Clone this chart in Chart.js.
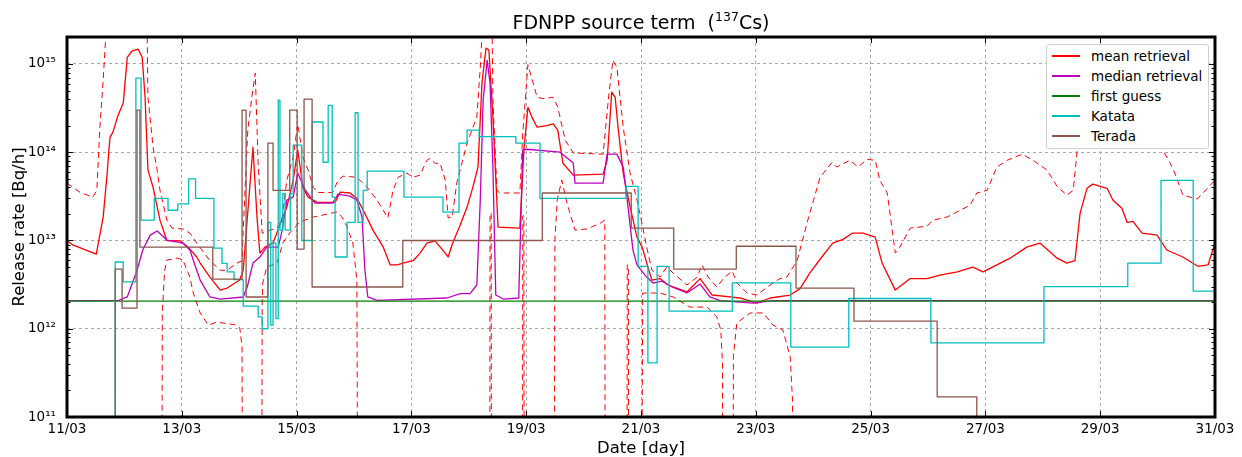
<!DOCTYPE html>
<html>
<head>
<meta charset="utf-8">
<title>FDNPP source term</title>
<script src="https://cdn.jsdelivr.net/npm/chart.js@4.4.1/dist/chart.umd.min.js"></script>
<style>
  body { margin: 0; background: #fff; }
  #wrap { position: relative; width: 1242px; height: 457px; font-family: "DejaVu Sans", sans-serif; color: #000; }
  #chart { position: absolute; left: 0; top: 0; }
  .txt { position: absolute; white-space: nowrap; }
  #title { left: 67px; width: 1148px; top: 13px; text-align: center; font-size: 19px; line-height: 19px; }
  #title .sup { font-size: 12.5px; position: relative; top: -8px; line-height: 0; }
  #xlabel { left: 67px; width: 1148px; top: 440px; text-align: center; font-size: 16.5px; line-height: 16.5px; }
  #ylabel { left: -131px; top: 217px; width: 300px; height: 20px; line-height: 20px; text-align: center; font-size: 16.5px; transform: rotate(-90deg); }
  #legend { position: absolute; left: 1046px; top: 44px; width: 161px; height: 103px; background: #fff; border: 1px solid #cfcfcf; border-radius: 3px; font-size: 13.5px; }
  #legend .row { position: absolute; left: 0; width: 160px; height: 20px; }
  #legend .line { position: absolute; left: 5px; top: 9px; width: 28px; height: 2px; }
  #legend .lab { position: absolute; left: 44px; top: 0; line-height: 20px; }
</style>
</head>
<body>
<div id="wrap">
  <canvas id="chart" width="1242" height="457"></canvas>
  <div id="title" class="txt">FDNPP source term &nbsp;(<span class="sup">137</span>Cs)</div>
  <div id="xlabel" class="txt">Date [day]</div>
  <div id="ylabel" class="txt">Release rate [Bq/h]</div>
  <div id="legend"></div>
</div>
<script>
"use strict";

// Axis ticks (x = days since 11/03 00:00)
var xTickDays = [0, 2, 4, 6, 8, 10, 12, 14, 16, 18, 20];
var xTickLabels = ['11/03', '13/03', '15/03', '17/03', '19/03', '21/03', '23/03', '25/03', '27/03', '29/03', '31/03'];
var yTickValues = [1e11, 1e12, 1e13, 1e14, 1e15];
var yTickLabels = ['10¹¹', '10¹²', '10¹³', '10¹⁴', '10¹⁵'];
var legendNames = ['mean retrieval', 'median retrieval', 'first guess', 'Katata', 'Terada'];
var seriesColors = ['#ff0000', '#bf00bf', '#008000', '#00bfbf', '#8c564b'];

// Release rates [Bq/h] as [day, value]
var meanRetrieval = [[0,1.0e13],[0.10,8.9e12],[0.51,7.0e12],[0.63,1.84e13],[0.70,5.8e13],[0.73,1.06e14],[0.75,1.48e14],[0.80,1.69e14],[0.89,2.63e14],[0.98,3.6e14],[1.00,5.05e14],[1.05,1.19e15],[1.13,1.40e15],[1.24,1.47e15],[1.31,1.19e15],[1.36,4.2e14],[1.41,6.3e13],[1.50,4.0e13],[1.62,1.70e13],[1.74,1.0e13],[1.97,9.9e12],[2.11,8.4e12],[2.26,6.5e12],[2.32,5.55e12],[2.49,3.85e12],[2.67,2.74e12],[2.79,2.89e12],[3.01,3.56e12],[3.07,4.6e12],[3.19,4.5e13],[3.24,1.14e14],[3.31,1.84e13],[3.36,7.2e12],[3.45,8.4e12],[3.59,9.4e12],[3.83,2.39e13],[3.94,4.83e13],[4.02,1.06e14],[4.11,4.0e13],[4.20,3.1e13],[4.36,2.7e13],[4.67,2.7e13],[4.76,3.53e13],[4.93,3.45e13],[5.05,3.0e13],[5.16,2.21e13],[5.33,1.31e13],[5.51,8.4e12],[5.63,5.3e12],[5.75,5.3e12],[5.89,5.6e12],[6.03,5.9e12],[6.15,7.2e12],[6.27,9.35e12],[6.41,9.9e12],[6.59,7.2e12],[6.64,6.5e12],[6.72,9.35e12],[6.85,1.5e13],[6.97,2.39e13],[7.07,4.0e13],[7.16,6.8e13],[7.23,6.1e14],[7.30,1.51e15],[7.35,1.44e15],[7.42,2.5e14],[7.51,1.42e13],[7.89,1.38e13],[7.96,1.06e14],[8.03,3.24e14],[8.10,2.5e14],[8.19,1.92e14],[8.36,2.0e14],[8.47,2.1e14],[8.55,1.78e14],[8.64,7.5e13],[8.82,5.5e13],[9.34,5.65e13],[9.41,8.1e13],[9.49,4.8e14],[9.55,4.2e14],[9.60,1.92e14],[9.69,5.8e13],[9.81,2.4e13],[9.93,1.09e13],[10.02,8.4e12],[10.10,5.55e12],[10.19,3.56e12],[10.33,3.7e12],[10.47,3.13e12],[10.80,2.61e12],[11.03,3.7e12],[11.24,2.41e12],[11.55,2.29e12],[11.72,2.23e12],[12.02,1.95e12],[12.25,2.23e12],[12.60,2.41e12],[12.77,2.85e12],[12.94,4.27e12],[13.15,6.5e12],[13.34,9.35e12],[13.52,1.03e13],[13.68,1.21e13],[13.87,1.21e13],[14.08,1.09e13],[14.20,5.55e12],[14.43,2.74e12],[14.69,3.7e12],[14.98,3.7e12],[15.21,4.05e12],[15.51,4.4e12],[15.78,5.0e12],[15.96,4.4e12],[16.20,5.3e12],[16.43,6.3e12],[16.72,8.4e12],[16.95,9.35e12],[17.25,6.3e12],[17.42,5.55e12],[17.56,5.9e12],[17.65,2.04e13],[17.77,3.9e13],[17.87,4.35e13],[18.12,3.9e13],[18.22,2.87e13],[18.38,2.3e13],[18.47,1.6e13],[18.57,1.65e13],[18.73,1.21e13],[18.99,1.15e13],[19.16,7.8e12],[19.44,6.5e12],[19.70,5.1e12],[19.88,5.3e12],[20,9.35e12]];

// Upper / lower uncertainty bounds of the mean (1e5 = below the axis, i.e. non-positive)
var upperBound = [[0,4.47e13],[0.23,3.5e13],[0.45,3.1e13],[0.52,3.7e13],[0.57,1.78e14],[0.63,6.56e14],[0.71,5e15],[1.39,5e15],[1.41,4.2e14],[1.50,1.14e14],[1.57,6.3e13],[1.62,3.7e13],[1.74,1.7e13],[1.83,1.38e13],[2.02,1.35e13],[2.14,1.21e13],[2.26,9.35e12],[2.49,5.9e12],[2.67,4.6e12],[2.79,4.6e12],[2.96,5.55e12],[3.05,5.9e12],[3.07,1.31e13],[3.15,1.78e14],[3.22,4.2e14],[3.28,7.87e14],[3.33,7.5e13],[3.40,1.21e13],[3.54,1.31e13],[3.66,1.38e13],[3.75,1.84e13],[3.83,4.83e13],[3.94,8.8e13],[4.02,2.1e14],[4.11,8.8e13],[4.20,6.3e13],[4.29,4.0e13],[4.37,3.5e13],[4.63,3.5e13],[4.72,4.8e13],[4.81,5.35e13],[5.05,5.2e13],[5.23,4.0e13],[5.40,2.87e13],[5.59,1.8e13],[5.68,3.7e13],[5.77,5.2e13],[5.92,5.8e13],[6.03,5.2e13],[6.15,5.5e13],[6.27,8.1e13],[6.32,8.5e13],[6.41,7.5e13],[6.50,7.5e13],[6.59,4.8e13],[6.64,1.8e13],[6.71,1.84e13],[6.79,4.47e13],[6.97,1.27e14],[7.14,2.5e14],[7.20,9.2e14],[7.26,5e15],[7.40,5e15],[7.42,3.9e14],[7.49,3.7e13],[7.54,3.45e13],[7.89,3.45e13],[7.94,1.65e14],[8.03,9.8e14],[8.12,6.1e14],[8.19,4.2e14],[8.29,4.05e14],[8.47,4.2e14],[8.55,3.24e14],[8.68,1.37e14],[8.82,9.8e13],[9.34,9.5e13],[9.43,3.9e14],[9.51,1.1e15],[9.58,9.2e14],[9.69,1.92e14],[9.81,5.8e13],[9.93,2.87e13],[9.98,2.04e13],[10.10,8.4e12],[10.19,4.6e12],[10.33,3.85e12],[10.45,5.0e12],[10.56,4.27e12],[10.80,3.13e12],[10.98,3.85e12],[11.06,5.3e12],[11.17,3.85e12],[11.32,2.97e12],[11.46,3.85e12],[11.59,4.5e12],[11.67,3.3e12],[11.85,2.54e12],[12.02,2.41e12],[12.20,2.97e12],[12.42,3.7e12],[12.54,3.85e12],[12.72,5.9e12],[12.89,1.56e13],[13.12,5.2e13],[13.33,7.7e13],[13.41,6.8e13],[13.64,8.1e13],[13.78,6.8e13],[13.94,8.3e13],[14.08,8.1e13],[14.16,4.8e13],[14.29,3.45e13],[14.43,7.2e12],[14.51,8.4e12],[14.69,1.38e13],[14.98,1.45e13],[15.09,1.7e13],[15.33,1.84e13],[15.56,2.2e13],[15.73,2.5e13],[15.85,3.45e13],[16.03,3.7e13],[16.20,6.8e13],[16.38,8.1e13],[16.64,9.5e13],[16.83,8.1e13],[17.07,6.3e13],[17.26,4.0e13],[17.42,3.27e13],[17.53,3.7e13],[17.60,1.06e14],[17.73,3.5e14],[18.34,5e14],[18.87,2.5e14],[19.09,1.06e14],[19.22,7.5e13],[19.30,5.8e13],[19.44,3.27e13],[19.69,2.95e13],[19.79,3.45e13],[19.97,4.6e13],[20,5.0e13]];

var lowerBound = [[0,1e5],[1.64,1e5],[1.66,1.5e12],[1.70,4.5e12],[1.74,6.0e12],[1.92,6.32e12],[2.02,6.0e12],[2.14,3.85e12],[2.20,2.54e12],[2.32,1.51e12],[2.46,1.10e12],[2.61,1.19e12],[2.72,1.16e12],[2.96,1.10e12],[3.01,1.02e12],[3.05,6.2e11],[3.06,1e5],[3.38,1e5],[3.40,2.0e12],[3.41,3.29e12],[3.48,5.0e12],[3.66,5.55e12],[3.76,9.35e12],[3.89,1.24e13],[4.06,1.62e13],[4.29,1.84e13],[4.70,2.1e13],[4.79,1.84e13],[4.88,1.42e13],[4.98,9.35e12],[5.05,3.56e12],[5.09,1e5],[7.36,1e5],[7.37,2.04e13],[7.39,2.04e13],[7.40,1e5],[7.93,1e5],[7.94,1.9e13],[7.96,1.9e13],[7.97,1e5],[8.47,1e5],[8.50,1.0e13],[8.54,2.87e13],[8.62,4.83e13],[8.71,2.65e13],[8.85,1.31e13],[9.06,1.35e13],[9.29,1.57e13],[9.37,1.70e13],[9.38,1e5],[9.75,1e5],[9.76,5.26e12],[9.78,5.26e12],[9.79,1e5],[9.98,1e5],[10.03,2.54e12],[10.33,2.54e12],[10.56,2.29e12],[10.85,1.76e12],[11.15,1.76e12],[11.32,1.36e12],[11.39,9.7e11],[11.42,4e11],[11.43,1e5],[11.59,1e5],[11.61,5e11],[11.67,1.16e12],[11.90,1.51e12],[12.13,1.51e12],[12.30,1.10e12],[12.47,9.7e11],[12.60,4.8e11],[12.64,1.5e11],[12.65,1e5],[20,1e5]];

var medianRetrieval = [[0,2.08e12],[0.90,2.1e12],[1.05,2.29e12],[1.22,4.6e12],[1.32,7.8e12],[1.45,1.15e13],[1.57,1.28e13],[1.74,1.01e13],[2.02,9.35e12],[2.14,7.8e12],[2.26,4.6e12],[2.32,3.56e12],[2.49,2.29e12],[2.67,2.17e12],[3.07,2.29e12],[3.14,2.97e12],[3.24,5.55e12],[3.36,6.48e12],[3.48,8.42e12],[3.68,8.42e12],[3.75,1.31e13],[3.83,2.87e13],[3.94,3.1e13],[4.02,5.8e13],[4.15,3.72e13],[4.32,2.65e13],[4.63,2.65e13],[4.72,3.35e13],[4.93,3.18e13],[5.05,2.87e13],[5.14,1.84e13],[5.19,4.62e12],[5.24,2.29e12],[5.40,2.1e12],[6.62,2.23e12],[6.85,2.5e12],[7.02,2.5e12],[7.14,3.13e12],[7.20,2.87e13],[7.25,3.89e14],[7.32,1.1e15],[7.37,6.07e14],[7.42,6.78e13],[7.47,2.41e12],[7.60,2.17e12],[7.87,2.23e12],[7.94,1.06e14],[8.01,1.08e14],[8.59,1.0e14],[8.82,7.53e13],[8.85,4.47e13],[9.34,4.47e13],[9.41,9.51e13],[9.58,9.51e13],[9.69,6.78e13],[9.76,2.87e13],[9.86,7.78e12],[9.93,5.26e12],[10.10,3.85e12],[10.21,3.29e12],[10.36,3.47e12],[10.54,2.97e12],[10.80,2.54e12],[11.03,3.21e12],[11.20,2.29e12],[11.38,2.08e12],[11.95,1.95e12],[12.30,2.08e12],[20,2.08e12]];

var firstGuess = [[0,2.06e12],[20,2.06e12]];

// Step series: each value holds until the next day listed
var katata = [[0.84,1e5],[0.84,5.7e12],[0.98,3.4e12],[1.20,6.9e14],[1.29,1.7e13],[1.52,3.0e13],[1.76,2.2e13],[1.93,2.6e13],[2.12,5.0e13],[2.24,3.0e13],[2.56,8.2e12],[2.70,5.5e12],[2.79,4.4e12],[2.91,3.6e12],[3.07,1.8e12],[3.33,1.36e12],[3.40,1.0e12],[3.50,1.6e13],[3.55,1.1e12],[3.59,9.4e12],[3.64,1.3e12],[3.68,3.9e14],[3.71,1.31e13],[3.76,3.4e13],[3.80,1.31e13],[3.89,3.4e13],[3.94,1.2e14],[4.09,1.0e13],[4.27,2.2e14],[4.46,7.7e13],[4.55,3.4e14],[4.62,3.1e13],[4.67,6.5e12],[4.88,1.6e13],[5.02,2.8e14],[5.07,1.6e13],[5.16,3.7e13],[5.23,6.1e13],[5.87,3.1e13],[6.55,2.1e13],[6.83,1.27e14],[6.97,1.78e14],[7.18,1.5e14],[7.82,1.27e14],[8.24,3.0e13],[9.74,4.1e13],[9.95,5.1e12],[10.12,4.1e11],[10.28,5.1e12],[10.49,1.58e12],[11.59,3.3e12],[12.61,6.2e11],[13.62,2.2e12],[15.05,6.9e11],[17.02,3.0e12],[18.48,5.55e12],[19.06,4.8e13],[19.62,2.67e12],[20,2.67e12]];

var terada = [[0.84,1e5],[0.84,4.74e12],[0.96,1.71e12],[1.22,3.0e14],[1.27,8.4e12],[2.54,3.65e12],[3.05,3.0e14],[3.12,2.29e12],[3.50,1.27e14],[3.59,3.7e13],[3.88,3.0e14],[4.01,8.0e12],[4.13,4.0e14],[4.27,2.97e12],[5.85,1.0e13],[8.28,3.45e13],[9.83,1.38e13],[10.57,4.74e12],[11.66,8.6e12],[12.70,2.89e12],[13.71,1.22e12],[15.16,1.69e11],[15.85,1e5]];

var toXY = function (pairs) {
    return pairs.map(function (p) { return { x: p[0], y: p[1] }; });
};

// Frame and inward tick marks, drawn over the data like the matplotlib spines
var frameAndTicks = {
    id: 'frameAndTicks',
    afterDraw: function (chart) {
        var ctx = chart.ctx;
        var a = chart.chartArea;
        var xs = chart.scales.x;
        var ys = chart.scales.y;
        ctx.save();
        ctx.strokeStyle = '#000';
        ctx.lineWidth = 1;
        ctx.beginPath();
        for (var e = 11; e < 15; e++) {
            for (var k = 2; k < 10; k++) {
                var py = Math.round(ys.getPixelForValue(k * Math.pow(10, e))) + 0.5;
                ctx.moveTo(a.left, py); ctx.lineTo(a.left + 3.5, py);
                ctx.moveTo(a.right, py); ctx.lineTo(a.right - 3.5, py);
            }
        }
        yTickValues.forEach(function (v) {
            var py = Math.round(ys.getPixelForValue(v)) + 0.5;
            ctx.moveTo(a.left, py); ctx.lineTo(a.left + 6, py);
            ctx.moveTo(a.right, py); ctx.lineTo(a.right - 6, py);
        });
        xTickDays.forEach(function (d) {
            var px = Math.round(xs.getPixelForValue(d)) + 0.5;
            ctx.moveTo(px, a.bottom); ctx.lineTo(px, a.bottom - 6);
            ctx.moveTo(px, a.top); ctx.lineTo(px, a.top + 6);
        });
        ctx.stroke();
        ctx.lineWidth = 3;
        ctx.strokeRect(a.left, a.top, a.right - a.left, a.bottom - a.top);
        ctx.restore();
    }
};

var lineDefaults = { pointRadius: 0, borderWidth: 1.3, borderJoinStyle: 'round', fill: false };

var datasets = [
    Object.assign({ label: legendNames[0], data: toXY(meanRetrieval), borderColor: seriesColors[0], order: 5 }, lineDefaults),
    Object.assign({ label: legendNames[1], data: toXY(medianRetrieval), borderColor: seriesColors[1], order: 4 }, lineDefaults),
    Object.assign({ label: legendNames[2], data: toXY(firstGuess), borderColor: seriesColors[2], order: 3 }, lineDefaults),
    Object.assign({ label: legendNames[3], data: toXY(katata), borderColor: seriesColors[3], stepped: true, order: 2 }, lineDefaults),
    Object.assign({ label: legendNames[4], data: toXY(terada), borderColor: seriesColors[4], stepped: true, order: 1 }, lineDefaults),
    Object.assign({ label: 'upper', data: toXY(upperBound), borderColor: seriesColors[0], order: 6 }, lineDefaults, { borderWidth: 1, borderDash: [6, 4] }),
    Object.assign({ label: 'lower', data: toXY(lowerBound), borderColor: seriesColors[0], order: 7 }, lineDefaults, { borderWidth: 1, borderDash: [6, 4] })
];

Chart.defaults.font.family = '"DejaVu Sans", sans-serif';
Chart.defaults.font.size = 13.5;
Chart.defaults.color = '#000';

var chart = new Chart(document.getElementById('chart'), {
    type: 'line',
    data: { datasets: datasets },
    options: {
        responsive: false,
        animation: false,
        events: [],
        layout: { padding: { top: 37, right: 27, left: 0, bottom: 0 } },
        plugins: {
            legend: { display: false },
            tooltip: { enabled: false }
        },
        scales: {
            x: {
                type: 'linear',
                min: 0,
                max: 20,
                afterFit: function (s) { s.height = 40; },
                afterBuildTicks: function (s) {
                    s.ticks = xTickDays.map(function (d) { return { value: d }; });
                },
                ticks: {
                    autoSkip: false,
                    maxRotation: 0,
                    padding: 4,
                    callback: function (v, i) { return xTickLabels[i]; }
                },
                grid: { color: '#a8a8a8', lineWidth: 1, drawTicks: false },
                border: { display: false, dash: [3, 3] }
            },
            y: {
                type: 'logarithmic',
                min: 1e11,
                max: 2.02e15,
                afterFit: function (s) { s.width = 67; },
                afterBuildTicks: function (s) {
                    s.ticks = yTickValues.map(function (v) { return { value: v }; });
                },
                ticks: {
                    autoSkip: false,
                    padding: 11,
                    callback: function (v, i) { return yTickLabels[i]; }
                },
                grid: { color: '#a8a8a8', lineWidth: 1, drawTicks: false },
                border: { display: false, dash: [3, 3] }
            }
        }
    },
    plugins: [frameAndTicks]
});

// Legend box (upper right, inside the axes)
var legendEl = document.getElementById('legend');
legendNames.forEach(function (name, i) {
    var row = document.createElement('div');
    row.className = 'row';
    row.style.top = (1 + i * 20) + 'px';
    var line = document.createElement('div');
    line.className = 'line';
    line.style.backgroundColor = seriesColors[i];
    var lab = document.createElement('span');
    lab.className = 'lab';
    lab.textContent = name;
    row.appendChild(line);
    row.appendChild(lab);
    legendEl.appendChild(row);
});
</script>
</body>
</html>
